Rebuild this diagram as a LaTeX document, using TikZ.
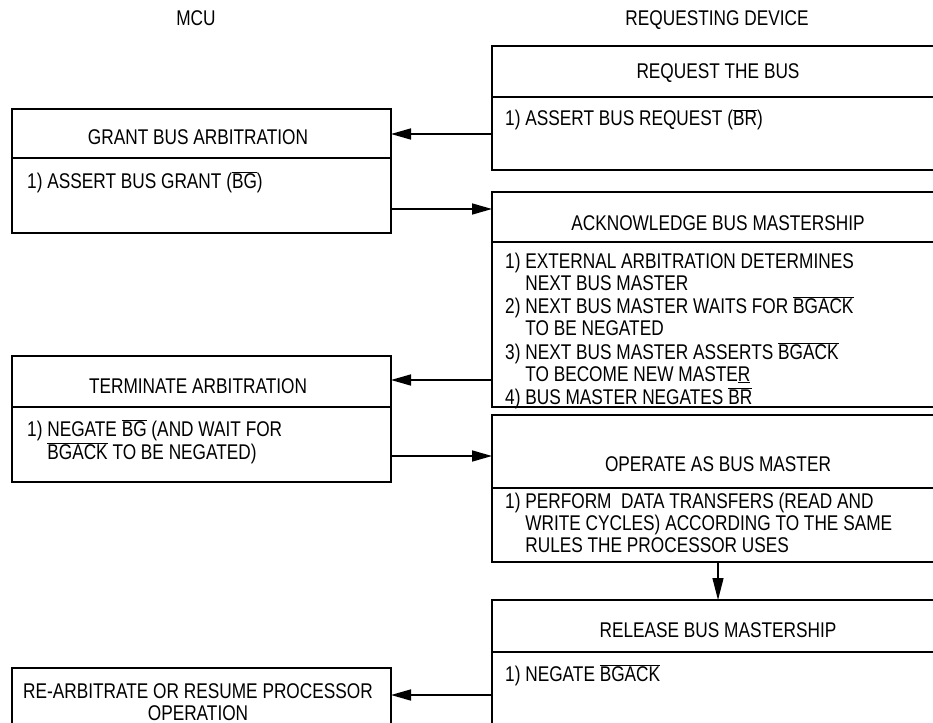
\documentclass[tikz,border=0pt]{standalone}
\usepackage{fontspec}
\setmainfont{Liberation Sans}[FakeStretch=0.81]
\usetikzlibrary{arrows.meta}
\newcommand\ovl[1]{$\overline{\mbox{#1}}$}
\newcommand\blines[1]{\begin{tabular}[t]{@{}l@{}}#1\end{tabular}}
\newcommand\clines[1]{\begin{tabular}[t]{@{}c@{}}#1\end{tabular}}
\newcommand\ind{\phantom{1) }}
\begin{document}
\begin{tikzpicture}[x=1bp,y=-1bp,
  box/.style={draw,line width=2.8bp,anchor=north west,inner sep=0,outer sep=0},
  rbox/.style={box,minimum width=452bp},
  lbox/.style={box,minimum width=379bp},
  divider/.style={line width=2.8bp},
  ttl/.style={anchor=base,inner sep=0,font=\fontsize{21.3bp}{22bp}\selectfont},
  body/.style={anchor=base west,inner sep=0,font=\fontsize{21.3bp}{22bp}\selectfont},
  arr/.style={line width=1.6bp,-{Triangle[length=20bp,width=11bp]}},
  varr/.style={line width=1.2bp,-{Triangle[length=22bp,width=11bp]}}]
\clip (0,0) rectangle (933,723);
\fill[white] (0,0) rectangle (933,723);
% column headings
\node[ttl] (mcu) at (196,26) {MCU};
\node[ttl] (dev) at (717,26) {REQUESTING DEVICE};
% boxes
\node[rbox,minimum height=124bp] (req) at (492,46) {};
\node[lbox,minimum height=124bp] (grant) at (12,109) {};
\node[rbox,minimum height=215bp] (ack) at (492,192) {};
\node[lbox,minimum height=126bp] (term) at (12,356) {};
\node[rbox,minimum height=147bp] (oper) at (492,415) {};
\node[rbox,minimum height=150bp] (rel) at (492,600) {};
\node[lbox,minimum height=100bp] (rearb) at (12,668) {};
% dividers
\coordinate (d1) at (0,97);
\coordinate (d2) at (0,158);
\coordinate (d3) at (0,242);
\coordinate (d4) at (0,407);
\coordinate (d5) at (0,488);
\coordinate (d6) at (0,652);
\draw[divider] (req.west |- d1) -- (req.east |- d1);
\draw[divider] (grant.west |- d2) -- (grant.east |- d2);
\draw[divider] (ack.west |- d3) -- (ack.east |- d3);
\draw[divider] (term.west |- d4) -- (term.east |- d4);
\draw[divider] (oper.west |- d5) -- (oper.east |- d5);
\draw[divider] (rel.west |- d6) -- (rel.east |- d6);
% titles
\node[ttl] (reqT) at (718,79) {REQUEST THE BUS};
\node[ttl] (grantT) at (198,145) {GRANT BUS ARBITRATION};
\node[ttl] (ackT) at (718,230) {ACKNOWLEDGE BUS MASTERSHIP};
\node[ttl] (termT) at (198,393) {TERMINATE ARBITRATION};
\node[ttl] (operT) at (718,471) {OPERATE AS BUS MASTER};
\node[ttl] (relT) at (718,637) {RELEASE BUS MASTERSHIP};
\node[ttl] (rearbT) at (198,698) {\clines{RE-ARBITRATE OR RESUME PROCESSOR\\OPERATION}};
% bodies
\node[body] (reqB) at (505,126) {1) ASSERT BUS REQUEST (\ovl{BR})};
\node[body] (grantB) at (27,188) {1) ASSERT BUS GRANT (\ovl{BG})};
\node[body] (ackB) at (505,268) {\blines{1) EXTERNAL ARBITRATION DETERMINES\\
\ind NEXT BUS MASTER\\
2) NEXT BUS MASTER WAITS FOR \ovl{BGACK}\\
\ind TO BE NEGATED\\
3) NEXT BUS MASTER ASSERTS \ovl{BGACK}\\
\ind TO BECOME NEW MASTE\underline{R}\\
4) BUS MASTER NEGATES \ovl{BR}}};
\node[body] (termB) at (27,436) {\blines{1) NEGATE \ovl{BG} (AND WAIT FOR\\
\ind\ovl{BGACK} TO BE NEGATED)}};
\node[body] (operB) at (505,508) {\blines{1) PERFORM\ \ DATA TRANSFERS (READ AND\\
\ind WRITE CYCLES) ACCORDING TO THE SAME\\
\ind RULES THE PROCESSOR USES}};
\node[body] (relB) at (505,681) {1) NEGATE \ovl{BGACK}};
% connectors
\coordinate (a1) at (0,134);
\coordinate (a2) at (0,209);
\coordinate (a3) at (0,380);
\coordinate (a4) at (0,456);
\coordinate (a5) at (0,695);
\draw[arr] (req.west |- a1) -- (grant.east |- a1);
\draw[arr] (grant.east |- a2) -- (ack.west |- a2);
\draw[arr] (ack.west |- a3) -- (term.east |- a3);
\draw[arr] (term.east |- a4) -- (oper.west |- a4);
\draw[arr] (rel.west |- a5) -- (rearb.east |- a5);
\draw[varr] (oper.south) -- (rel.north);
\end{tikzpicture}
\end{document}
